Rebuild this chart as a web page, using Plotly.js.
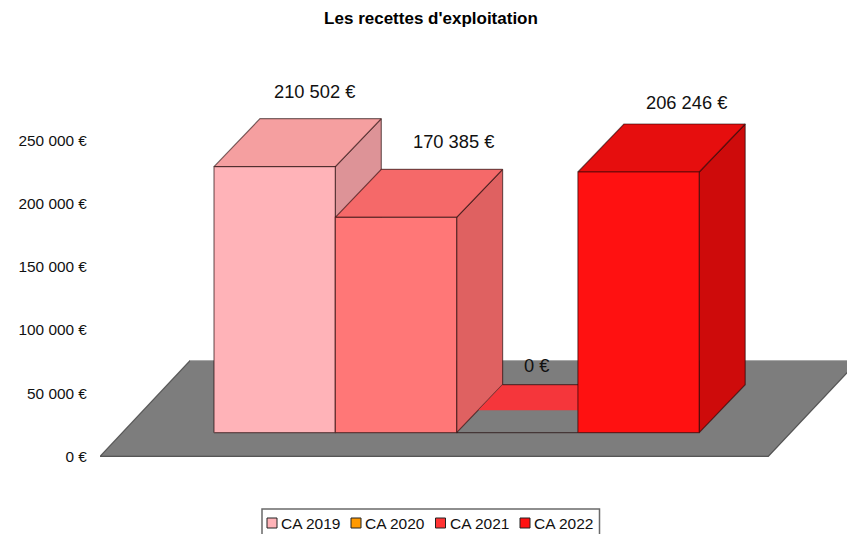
<!DOCTYPE html>
<html><head><meta charset="utf-8">
<script src="https://cdn.plot.ly/plotly-3.0.1.min.js"></script>
<style>html,body{margin:0;padding:0;background:#fff;overflow:hidden}#c{width:847px;height:534px}</style>
</head><body><div id="c"></div>
<script>
const seriesNames = ["CA 2019","CA 2020","CA 2021","CA 2022"];
const values = [210502,170385,0,206246];
const valueLabels = ["210 502 €","170 385 €","0 €","206 246 €"];
const tickVals = [0,50000,100000,150000,200000,250000];
const tickTexts = ["0 €","50 000 €","100 000 €","150 000 €","200 000 €","250 000 €"];
const legendColors = ["#FFB3B8","#FF9900","#FF3333","#FF1111"];
const frontColors = ["#FFB3B8","#FF7777","#FF3333","#FF1111"];
const topColors = ["#F59FA0","#F56969","#F5363B","#E60E0E"];
const sideColors = ["#DD9397","#DF6161","#DF2E2E","#CE0B0B"];
const labelShiftX = [40,58,19,48];
const labelShiftY = [75,76,67,70];

// geometry of the 3D projection, expressed in axis units
const pxPerBar = 121.3, pxPerUnitY = 1.264/1000;
const depthX = 46/pxPerBar, depthY = 48/pxPerUnitY;
const baseY = 23.7/pxPerUnitY;
const floor = {x0:-1.44, x1:4.07, dx:90/pxPerBar, dy:95.7/pxPerUnitY};
const edge = 'rgba(30,5,5,0.58)';

const pt = (xf, v, t) => [xf + t*depthX, baseY + v + t*depthY];
const traces = [];
function poly(points, fill, line){
  traces.push({type:'scatter',mode:'lines',x:points.map(p=>p[0]).concat(points[0][0]),
    y:points.map(p=>p[1]).concat(points[0][1]),fill:fill?'toself':'none',fillcolor:fill||undefined,
    line:{color:line||edge,width:1.2},showlegend:false,hoverinfo:'skip'});
}
function seg(a,b,c){traces.push({type:'scatter',mode:'lines',x:[a[0],b[0]],y:[a[1],b[1]],
  line:{color:c||edge,width:1.2},showlegend:false,hoverinfo:'skip'});}

// floor
poly([[floor.x0,0],[floor.x1,0],[floor.x1+floor.dx,floor.dy],[floor.x0+floor.dx,floor.dy]],'#7D7D7D','rgba(60,60,60,0.8)');
seg([floor.x0+floor.dx,floor.dy],[floor.x1+floor.dx,floor.dy],'#A8A8A8');

// bars, drawn from left to right
values.forEach((v,i)=>{
  const l=i-0.5, r=i+0.5;
  if(v===0){
    traces.push({type:'scatter',mode:'lines',x:[pt(l,0,.47)[0],pt(r,0,.47)[0],pt(r,0,1)[0],pt(l,0,1)[0],pt(l,0,.47)[0]],
      y:[pt(l,0,.47)[1],pt(r,0,.47)[1],pt(r,0,1)[1],pt(l,0,1)[1],pt(l,0,.47)[1]],
      fill:'toself',fillcolor:topColors[i],line:{width:0},showlegend:false,hoverinfo:'skip'});
    seg(pt(l,0,1),pt(r,0,1));
    seg(pt(l,0,0),pt(r,0,0));
    return;
  }
  poly([pt(r,0,0),pt(r,v,0),pt(r,v,1),pt(r,0,1)],sideColors[i]);
  poly([pt(l,v,0),pt(r,v,0),pt(r,v,1),pt(l,v,1)],topColors[i]);
  poly([pt(l,0,0),pt(r,0,0),pt(r,v,0),pt(l,v,0)],frontColors[i]);
});

// plot area: x 100..847, y 60..470
const px = x => (x-100)/747, py = y => (470-y)/410;
const annotations = values.map((v,i)=>({xref:'x',yref:'y',x:i,y:baseY+v,text:valueLabels[i],showarrow:false,
  xanchor:'center',yanchor:'middle',xshift:labelShiftX[i],yshift:labelShiftY[i],
  font:{family:'Liberation Sans',size:18.3,color:'#111'}}));
const shapes = [{type:'rect',xref:'paper',yref:'paper',x0:px(262),x1:px(599.5),y0:py(545),y1:py(509),
  line:{color:'#6a6a6a',width:1.5},fillcolor:'#fff',layer:'above'}];
const legendX = [267,351,435.5,520];
seriesNames.forEach((n,i)=>{
  shapes.push({type:'rect',xref:'paper',yref:'paper',x0:px(legendX[i]),x1:px(legendX[i]+10),y0:py(528),y1:py(518),
    line:{color:'#222',width:1},fillcolor:legendColors[i],layer:'above'});
  annotations.push({xref:'paper',yref:'paper',x:px(legendX[i]+14),y:py(523.5),text:n,showarrow:false,xanchor:'left',yanchor:'middle',
    borderpad:0,borderwidth:0,font:{family:'Liberation Sans',size:15.5,color:'#111'}});
});

Plotly.newPlot('c',traces,{
  width:847,height:534,paper_bgcolor:'#fff',plot_bgcolor:'#fff',showlegend:false,
  margin:{l:100,r:0,t:60,b:64,pad:0},
  title:{text:"<b>Les recettes d'exploitation</b>",x:431/847,xref:'container',xanchor:'center',y:1-18/534,yref:'container',yanchor:'middle',
    font:{family:'Liberation Sans',size:17,color:'#000'}},
  xaxis:{type:'linear',range:[(100-274.65)/pxPerBar,(847-274.65)/pxPerBar],visible:false,fixedrange:true},
  yaxis:{type:'linear',range:[-13.6/pxPerUnitY,396.4/pxPerUnitY],tickmode:'array',tickvals:tickVals,ticktext:tickTexts,
    showgrid:false,zeroline:false,showline:false,ticks:'outside',ticklen:9,tickcolor:'rgba(0,0,0,0)',
    tickfont:{family:'Liberation Sans',size:15.4,color:'#111'},fixedrange:true},
  shapes,annotations
},{displayModeBar:false,staticPlot:true});
</script></body></html>
